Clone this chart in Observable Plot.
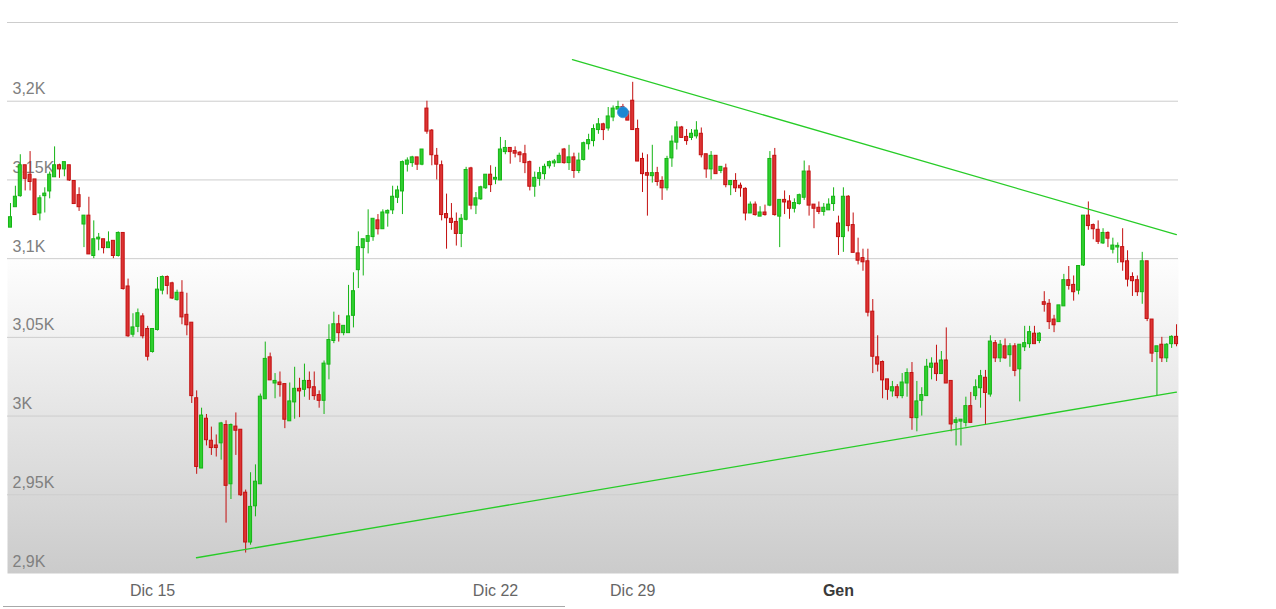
<!DOCTYPE html>
<html>
<head>
<meta charset="utf-8">
<script src="https://cdn.jsdelivr.net/npm/d3@7"></script>
<script src="https://cdn.jsdelivr.net/npm/@observablehq/plot@0.6"></script>
<style>
  html, body { margin: 0; padding: 0; background: #fff; }
  #wrap { position: relative; width: 1276px; height: 609px; overflow: hidden; }
  #navline { position: absolute; left: 3px; top: 606px; width: 562px; height: 0; border-top: 1px solid #a8a8a8; }
</style>
</head>
<body>
<div id="wrap"><div id="navline"></div></div>
<script>
// ---- data (candle index 1..239) ----
const opens = [3120,3133,3140,3159,3153,3150,3129,3140,3143,3152,
3159,3157,3159,3149,3140,3122,3127,3102,3112.5,3112,
3107,3111,3102,3116,3082,3052,3057,3063,3055,3041,
3055,3080,3088,3084,3074,3078,3064,3059,3011,2967,
2998,2984,2981,2983,2994,2957,2993,2991,2951,2920,
2943,2957,3011,3037,3021,3021,3020,2997,3009,3017,
3017,3022,3018,3013,3010,3033,3048,3058,3053,3053,
3064,3093,3107,3111,3114,3124,3119,3129,3131,3139,
3143,3160,3161,3164,3160,3195,3181,3165,3159,3128,
3125,3123,3116,3125,3157,3134,3138,3145,3153,3150.5,
3150,3168,3170,3168,3167,3166,3161,3146,3151,3154,
3159,3160.8,3161,3169,3161,3164,3156,3163,3173,3175,
3182,3185,3183,3190,3195,3196,3193,3200,3182,3163,
3154,3152.7,3154,3149,3145,3164,3174,3183,3177,3177,
3178,3179,3166,3157,3165,3156,3157,3147,3149,3146,
3144,3129,3134,3127,3129,3134,3165,3127,3137,3136,
3132,3135,3139,3155,3134,3132,3130,3131,3135,3122,
3114,3139,3121,3103,3100,3098,3066,3037,3034,3023,
3016,3018,3013,3021,3027,2999,3010,3013,3031,3033,
3027,3035,3022,2996,2996.8,2996,3006,3013,3018,3024,
3014,3046,3037,3044,3039,3044,3030,3044,3046,3052,
3048,3072,3071,3061,3060,3070,3086,3083,3080,3096,
3127,3121,3118,3110,3116,3106,3107.4,3107,3098,3088,
3086,3079,3098,3061,3041,3045,3037,3046,3050];

const highs = [3135,3146,3166,3159,3168,3150,3140,3145,3155,3171,
3160,3161,3159,3149,3145,3127,3139,3124,3116,3112,
3117,3111,3117,3116,3087,3065,3068,3065,3057,3055,
3088,3089,3089,3085,3080,3086,3078,3059,3016,3005,
3001,2993,2988,2996,2997,2995,3002,2991,2953,2964,
2969,3014,3047,3040,3027,3028,3020,3021,3031,3024,
3033,3028,3028,3016,3035,3058,3066,3064,3057,3083,
3091,3117,3112,3131,3125,3128,3131,3131,3146,3146,
3162,3164,3165,3164,3169,3200,3182,3170,3162,3141,
3135,3129,3128,3158,3158,3142,3146,3153,3159,3158,
3177,3175,3170,3171,3168,3172,3162,3155,3158,3160,
3162,3163,3167,3170,3172,3167,3167,3174,3179,3185,
3189,3186,3196,3197,3200,3198,3193,3212,3188,3167,
3166,3172,3158,3152,3165,3178,3187,3184,3182,3182,
3187,3183,3166,3168,3165,3158,3160,3149,3154,3148,
3145,3136,3136,3133,3134,3168,3170,3137,3143,3140,
3138,3141,3162,3159,3134,3136,3135,3138,3145,3127,
3145,3140,3129,3113,3106,3106,3074,3051,3035,3023,
3022,3020,3027,3030,3034,3022,3018,3036,3037,3045,
3041,3056,3022,2999,2997.4,3012,3015,3023,3029,3029,
3051,3048,3048,3049,3046,3046,3045,3057,3057,3057,
3053,3079,3074,3064,3070,3090,3095,3089,3095,3127,
3136,3122,3124,3119,3117,3113,3110,3119,3105,3091,
3089,3104,3098,3061,3044,3050,3046,3051,3058];

const lows = [3120,3133,3139,3143,3143,3128,3124,3129,3138,3152,
3151,3152,3149,3135,3130,3107,3103,3100,3105,3103,
3107,3100,3101,3080,3050,3050,3053,3049,3035,3040,
3054,3077,3077,3074,3073,3058,3051,3008,2963,2967,
2981,2975,2974,2972,2932,2947,2975,2949,2913,2918,
2936,2957,3011,3023,3011,3012,2992,2997,2998,2999,
3012,3010,3010,3005,3001,3023,3046,3047,3051,3053,
3056,3081,3089,3103,3111,3115,3119,3120,3128,3135,
3128,3155,3158,3156,3159,3179,3159,3150,3124,3106,
3118,3108,3107,3124,3131,3128,3137,3144,3142,3147,
3150,3166,3160,3164,3161,3154,3143,3139,3146,3150,
3157,3158,3161,3160,3156,3151,3154,3162,3169,3171,
3179,3175,3181,3187,3195,3190,3188,3182,3162,3142,
3127,3148,3146,3137,3143,3158,3169,3177,3172,3175,
3176,3164,3151,3150,3154,3154,3145,3140,3142,3139,
3124,3129,3127,3127,3127,3133,3127,3107,3128,3125,
3129,3134,3137,3127,3119,3128,3127,3131,3130,3102,
3104,3117,3104,3096,3092,3063,3027,3028,3011,3010,
3012,3011,3011,3012,2991,2990,3000,3013,3023,3022,
3027,3021,2990,2981,2981,2993,2996,3010,3005,2994,
3012,3034,3034,3036,3031,3025,3009,3041,3043,3046,
3046,3066,3055,3053,3060,3070,3080,3073,3077,3095,
3118,3112,3109,3109,3107,3103,3097,3092,3082,3076,
3076,3071,3060,3034,3013,3034,3034,3043,3044];

const closes = [3126,3139,3159,3151,3149,3128,3138,3141,3153,3159,
3157,3161,3150,3135,3133,3127,3103,3112,3113,3107,
3110,3102,3116,3081,3051,3056,3065,3051,3038,3055,
3080,3088,3083,3075,3078,3063,3058,3013,2968,3000,
2985,2980,2980,2995,2956,2994,2991,2950,2920,2942,
2958,3012,3036,3023,3022,3020,2998,3009,3017,3016,
3022,3018,3013,3010,3033,3048,3058,3053,3057,3063,
3079,3107,3112,3114,3125,3119,3129,3130,3139,3143,
3161,3162,3164,3160,3169,3181,3166,3160,3128,3126,
3123,3116,3125,3156,3134,3138,3145,3153,3147,3151,
3169,3170,3168,3167,3166,3161,3146,3151,3154,3158,
3161,3161.4,3165,3161,3164,3156,3162,3173,3175,3182,
3185,3182,3190,3195,3196,3191,3188,3182,3162,3154,
3153,3154,3149,3145,3163,3174,3183,3177,3175,3179,
3181,3166,3157,3165,3154,3158,3147,3149,3145,3145,
3129,3134,3128,3129,3128,3163,3128,3137,3136,3132,
3135,3140,3155,3134,3132,3130,3132,3134,3139,3114,
3139,3121,3104,3099,3098,3066,3038,3033,3023,3017,
3018,3013,3021,3027,2999,3009,3013,3031,3033,3027,
3035,3021,2995,2997,2997.4,3006,2996,3018,3025,3015,
3047,3037,3045,3037,3044,3029,3045,3046,3053,3046,
3052,3071,3060,3058,3070,3086,3083,3079,3095,3127,
3121,3119,3111,3116,3113,3108,3107.8,3098,3087,3086,
3079,3098,3062,3040,3044,3037,3045,3050,3046];

// trend lines: [candle index, value]
const upperTrendIndex = [115.7, 238.97];
const upperTrendValue = [3226.4, 3115.3];
const lowerTrendIndex = [38.96, 238.97];
const lowerTrendValue = [2910.0, 3015.2];

// event marker
const markerIndex = [126];
const markerValue = [3193];

// axes
const gridValues = [2950, 3000, 3050, 3100, 3150, 3200, 3250];
const yLabelValues = [2900, 2950, 3000, 3050, 3100, 3150, 3200];
const yLabelTexts = ["2,9K", "2,95K", "3K", "3,05K", "3,1K", "3,15K", "3,2K"];
const xTickIndex = [30, 100, 128, 170];
const xTickLabels = ["Dic 15", "Dic 22", "Dic 29", "Gen"];
const xTickBold = [false, false, false, true];

// ---- build ----
const candles = opens.map((o, k) => ({i: k + 1, o, h: highs[k], l: lows[k], c: closes[k]}));
const up = candles.filter(d => d.c >= d.o);
const down = candles.filter(d => d.c < d.o);
const upperTrend = upperTrendIndex.map((x, k) => ({x, y: upperTrendValue[k]}));
const lowerTrend = lowerTrendIndex.map((x, k) => ({x, y: lowerTrendValue[k]}));
const markers = markerIndex.map((x, k) => ({x, y: markerValue[k]}));
const yLabels = yLabelValues.map((v, k) => ({v, t: yLabelTexts[k]}));
const xLabels = xTickIndex.map((x, k) => ({x, t: xTickLabels[k], b: xTickBold[k]}));

const GREEN_FILL = "#2fcf2f", GREEN_LINE = "#14b414";
const RED_FILL = "#dc3434", RED_LINE = "#c30f0f";
const HW = 0.31;

const bodyOpts = (fill, stroke) => ({
  x1: d => d.i - HW, x2: d => d.i + HW,
  y1: d => Math.min(d.o, d.c), y2: d => Math.max(d.o, d.c),
  fill, stroke, strokeWidth: 1, insetTop: -0.5, insetBottom: -0.5
});

const chart = Plot.plot({
  width: 1276,
  height: 609,
  marginTop: 22,
  marginBottom: 36,
  marginLeft: 7,
  marginRight: 98,
  x: {type: "linear", domain: [0.39, 239.4], axis: null},
  y: {type: "linear", domain: [2900, 3250], axis: null},
  style: {fontFamily: "'Liberation Sans', Arial, sans-serif", background: "white", overflow: "visible"},
  marks: [
    Plot.frame({fill: "url(#plotBg)", stroke: null}),
    Plot.ruleY(gridValues, {stroke: "#cdcdcd", strokeWidth: 1}),
    Plot.text(yLabels, {y: "v", text: "t", frameAnchor: "left", textAnchor: "start", lineAnchor: "middle", dx: 5, dy: -12, fill: "#808080", fontSize: 16}),
    Plot.ruleX(up, {x: "i", y1: "l", y2: "h", stroke: GREEN_LINE, strokeWidth: 1}),
    Plot.ruleX(down, {x: "i", y1: "l", y2: "h", stroke: RED_LINE, strokeWidth: 1}),
    Plot.rect(up, bodyOpts(GREEN_FILL, GREEN_LINE)),
    Plot.rect(down, bodyOpts(RED_FILL, RED_LINE)),
    Plot.line(upperTrend, {x: "x", y: "y", stroke: "#27cc27", strokeWidth: 1.3}),
    Plot.line(lowerTrend, {x: "x", y: "y", stroke: "#27cc27", strokeWidth: 1.3}),
    Plot.dot(markers, {x: "x", y: "y", r: 5.5, fill: "#1b87d3", stroke: "#3a9be0", strokeWidth: 0.8}),
    Plot.text(xLabels.filter(d => !d.b), {x: "x", text: "t", frameAnchor: "bottom", lineAnchor: "middle", dy: 17.5, fill: "#666", fontSize: 16}),
    Plot.text(xLabels.filter(d => d.b), {x: "x", text: "t", frameAnchor: "bottom", lineAnchor: "middle", dy: 17.5, fill: "#3a3a3a", fontSize: 16, fontWeight: "bold"})
  ]
});

const svg = d3.select(chart);
const defs = svg.insert("defs", ":first-child");
const grad = defs.append("linearGradient").attr("id", "plotBg")
  .attr("x1", 0).attr("y1", 0).attr("x2", 0).attr("y2", 1);
grad.append("stop").attr("offset", "0").attr("stop-color", "#ffffff");
grad.append("stop").attr("offset", "0.415").attr("stop-color", "#ffffff");
grad.append("stop").attr("offset", "1").attr("stop-color", "#cbcbcb");

document.getElementById("wrap").prepend(chart);
</script>
</body>
</html>
